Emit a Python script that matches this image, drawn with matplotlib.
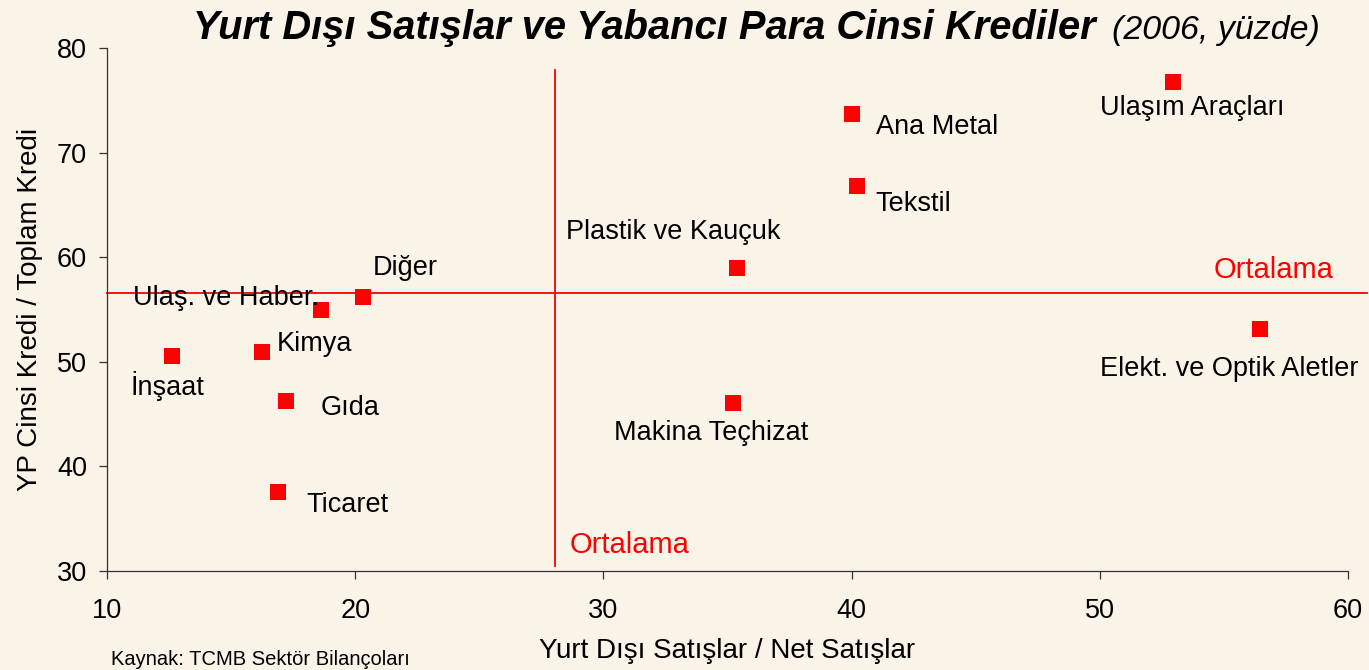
import matplotlib.pyplot as plt

plt.rcParams['font.family'] = ['Liberation Sans', 'DejaVu Sans']

# sectors: foreign sales / net sales (x), FX credit / total credit (y)
sectors = ["Ulaşım Araçları", "Ana Metal", "Tekstil", "Plastik ve Kauçuk",
           "Elekt. ve Optik Aletler", "Makina Teçhizat", "Diğer",
           "Ulaş. ve Haber.", "Kimya", "İnşaat", "Gıda", "Ticaret"]
export_share = [52.95, 40.0, 40.2, 35.4, 56.45, 35.2, 20.3, 18.6, 16.25, 12.6, 17.2, 16.9]
fx_credit = [76.75, 73.7, 66.8, 59.0, 53.1, 46.05, 56.2, 54.95, 50.9, 50.55, 46.25, 37.55]

# label offsets in pixels (left edge of text, vertical centre) relative to the point
label_offsets = [(-73, -26), (24, -13), (19, -18), (-171, 36), (-160, -40),
                 (-119, -30), (10, 29), (-188, 12), (15, 8), (-41, -30),
                 (35, -7), (28, -13)]

mean_x = 28.05
mean_y = 56.6

bg = "#faf3e7"
red = "#ff0000"

fig = plt.figure(figsize=(13.69, 6.70), dpi=100, facecolor=bg)
ax = fig.add_axes([0.0782, 0.1478, 0.9065, 0.7806], facecolor=bg)

ax.scatter(export_share, fx_credit, marker="s", s=140, color=red, zorder=3,
           linewidths=0)

for name, x, y, (dx, dy) in zip(sectors, export_share, fx_credit, label_offsets):
    ax.annotate(name, (x, y), xytext=(dx * 0.72, dy * 0.72),
                textcoords="offset points", ha="left", va="center",
                fontsize=19.5, color="black")

# mean lines
ax.plot([mean_x, mean_x], [30.5, 77.9], color=red, lw=1.3, zorder=2)
ax.plot([10, 60.75], [mean_y, mean_y], color=red, lw=1.3, zorder=2, clip_on=False)
ax.text(mean_x + 0.6, 32.5, "Ortalama", color=red, fontsize=21, ha="left", va="center")
ax.text(54.6, 58.8, "Ortalama", color=red, fontsize=21, ha="left", va="center")

ax.set_xlim(10, 60)
ax.set_ylim(30, 80)
ax.set_xticks([10, 20, 30, 40, 50, 60])
ax.set_yticks([30, 40, 50, 60, 70, 80])
for s in ["top", "right"]:
    ax.spines[s].set_visible(False)
for s in ["left", "bottom"]:
    ax.spines[s].set_color("#333333")
    ax.spines[s].set_linewidth(0.9)
ax.tick_params(direction="out", length=5.5, width=0.9, color="#333333", labelsize=19.5)
ax.tick_params(axis="x", pad=14)
ax.tick_params(axis="y", pad=9)

ax.set_xlabel("Yurt Dışı Satışlar / Net Satışlar", fontsize=20, labelpad=10)
ax.set_ylabel("YP Cinsi Kredi / Toplam Kredi", fontsize=20, labelpad=10)

fig.text(0.141, 0.958, "Yurt Dışı Satışlar ve Yabancı Para Cinsi Krediler",
         fontsize=28.7, fontweight="bold", fontstyle="italic", ha="left", va="center")
fig.text(0.812, 0.955, "(2006, yüzde)", fontsize=24.5, fontstyle="italic",
         ha="left", va="center")
fig.text(0.081, 0.016, "Kaynak: TCMB Sektör Bilançoları", fontsize=14.5,
         ha="left", va="center")

fig.savefig("out.png", dpi=100, facecolor=bg)
